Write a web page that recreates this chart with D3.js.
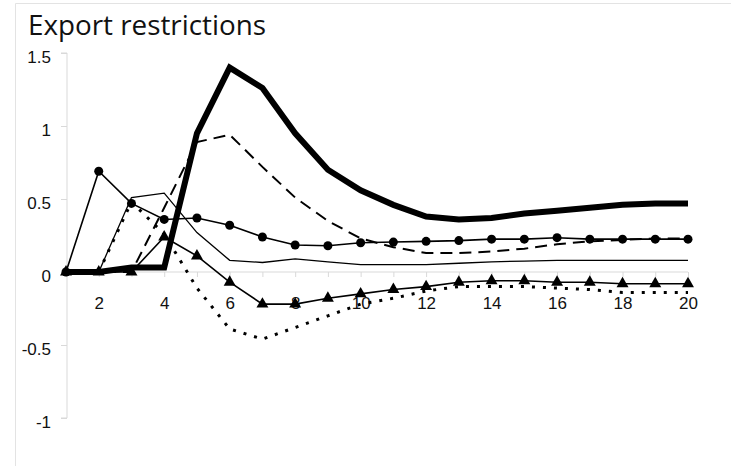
<!DOCTYPE html>
<html>
<head>
<meta charset="utf-8">
<script src="https://cdn.jsdelivr.net/npm/d3@7"></script>
<style>
  html, body { margin: 0; padding: 0; background: #fff; }
  svg { display: block; }
</style>
</head>
<body>
<svg id="chart" width="731" height="466"></svg>
<script>
const title = "Export restrictions";
const periods = d3.range(1, 21);
const xTickLabels = [2, 4, 6, 8, 10, 12, 14, 16, 18, 20];
const yTicks = [-1, -0.5, 0, 0.5, 1, 1.5];

const thickSeries = [0, 0, 0.03, 0.03, 0.95, 1.40, 1.26, 0.95, 0.70, 0.56, 0.46, 0.38, 0.36, 0.37, 0.40, 0.42, 0.44, 0.46, 0.47, 0.47];
const dashedSeries = [0, 0, 0, 0.44, 0.89, 0.94, 0.72, 0.51, 0.35, 0.23, 0.17, 0.13, 0.13, 0.14, 0.16, 0.19, 0.21, 0.22, 0.23, 0.23];
const circleSeries = [0, 0.69, 0.47, 0.36, 0.37, 0.32, 0.24, 0.185, 0.18, 0.20, 0.205, 0.21, 0.215, 0.225, 0.225, 0.235, 0.225, 0.225, 0.225, 0.225];
const thinSeries = [0, 0, 0.51, 0.54, 0.27, 0.08, 0.065, 0.09, 0.07, 0.05, 0.05, 0.05, 0.06, 0.07, 0.075, 0.08, 0.08, 0.08, 0.08, 0.08];
const triangleSeries = [0, 0, 0, 0.24, 0.11, -0.07, -0.22, -0.22, -0.18, -0.15, -0.12, -0.10, -0.07, -0.06, -0.06, -0.07, -0.07, -0.08, -0.08, -0.08];
const dottedSeries = [0, 0, 0.48, 0.26, -0.11, -0.39, -0.46, -0.38, -0.30, -0.22, -0.18, -0.13, -0.10, -0.10, -0.10, -0.11, -0.12, -0.14, -0.14, -0.14];

const svg = d3.select("#chart");
const axisColor = "#d9d9d9";
const labelFont = "'Liberation Sans', Arial, sans-serif";

// frame
svg.append("path")
  .attr("d", "M15.5,466 L15.5,3.5 L731,3.5")
  .attr("fill", "none").attr("stroke", "#e3e3e3").attr("stroke-width", 1);

svg.append("text")
  .attr("x", 28).attr("y", 35)
  .attr("font-family", "'Open Sans', 'Noto Sans', sans-serif")
  .attr("font-size", 28)
  .attr("textLength", 238)
  .attr("lengthAdjust", "spacingAndGlyphs")
  .attr("fill", "#111")
  .text(title);

const x = d3.scaleLinear().domain([1, 20]).range([66, 688]);
const y = d3.scaleLinear().domain([-1, 1.5]).range([418, 53]);

// y axis
const yAxis = svg.append("g").attr("transform", "translate(67,0)")
  .call(d3.axisLeft(y).tickValues(yTicks).tickSize(6).tickPadding(10)
    .tickFormat(d => String(d)));
yAxis.select(".domain").attr("stroke", axisColor)
  .attr("d", `M-6,${y(1.5)}H0V${y(-1)}H-6`);
yAxis.selectAll(".tick line").attr("stroke", axisColor);
yAxis.selectAll(".tick text")
  .attr("font-family", labelFont)
  .attr("font-size", 17).attr("dy", "0.55em").attr("fill", "#111");

// x axis at zero
const xAxis = svg.append("g").attr("transform", `translate(0,${y(0)})`)
  .call(d3.axisBottom(x).tickValues(periods).tickSize(5).tickPadding(20)
    .tickFormat(d => xTickLabels.includes(d) ? String(d) : ""));
xAxis.select(".domain").attr("stroke", axisColor).attr("d", `M${x(1)},0H${x(20)}`);
xAxis.selectAll(".tick line").attr("stroke", axisColor);
xAxis.selectAll(".tick text")
  .attr("font-family", labelFont)
  .attr("font-size", 17).attr("fill", "#111");

const line = d3.line().x((d, i) => x(periods[i])).y(d => y(d));

function drawLine(data, width, dash) {
  const p = svg.append("path").datum(data)
    .attr("d", line)
    .attr("fill", "none").attr("stroke", "#000")
    .attr("stroke-width", width)
    .attr("stroke-linejoin", "miter");
  if (dash) p.attr("stroke-dasharray", dash);
  return p;
}

drawLine(dottedSeries, 3, "3,8");
drawLine(thinSeries, 1.3);
drawLine(dashedSeries, 2, "12,7");

drawLine(triangleSeries, 1.6);
svg.append("g").selectAll("path").data(triangleSeries).join("path")
  .attr("transform", (d, i) => `translate(${x(periods[i])},${y(d)})`)
  .attr("d", d3.symbol(d3.symbolTriangle, 62))
  .attr("fill", "#000");

drawLine(circleSeries, 1.6);
svg.append("g").selectAll("circle").data(circleSeries).join("circle")
  .attr("cx", (d, i) => x(periods[i]))
  .attr("cy", d => y(d))
  .attr("r", 4.5)
  .attr("fill", "#000");

drawLine(thickSeries, 6).attr("stroke-linecap", "butt");
</script>
</body>
</html>
